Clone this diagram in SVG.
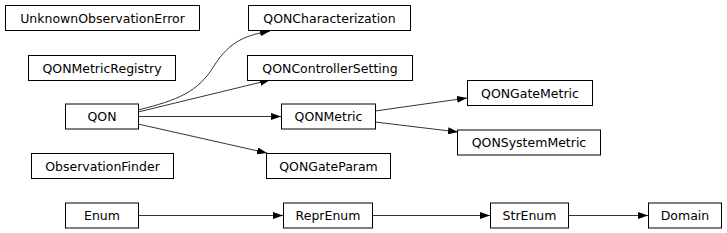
<svg xmlns="http://www.w3.org/2000/svg" width="727" height="233" viewBox="0 0 727 233">
<style>
.n rect{fill:#fff;stroke:#000;stroke-width:1}
.n text{font-family:"DejaVu Sans",sans-serif;font-size:12.5px;text-anchor:middle;fill:#000}
.e path{fill:none;stroke:#000;stroke-width:0.8}
</style>
<defs>
<marker id="a" viewBox="0 0 10 7" refX="10" refY="3.5" markerWidth="10" markerHeight="7" markerUnits="userSpaceOnUse" orient="auto">
<path d="M0,0 L10,3.5 L0,7 z" fill="#000"/>
</marker>
</defs>
<rect width="727" height="233" fill="#fff"/>
<g class="e">
<path d="M138,110 C178,100 198,92 214,66 C230,40 248,35 270,31" marker-end="url(#a)"/>
<path d="M138,112 L270,80" marker-end="url(#a)"/>
<path d="M138,116.5 L281,116.5" marker-end="url(#a)"/>
<path d="M138,124 L267,153" marker-end="url(#a)"/>
<path d="M375,111 L467,98" marker-end="url(#a)"/>
<path d="M375,122 L458,132" marker-end="url(#a)"/>
<path d="M138,215.5 L283,215.5" marker-end="url(#a)"/>
<path d="M372,215.5 L490,215.5" marker-end="url(#a)"/>
<path d="M568,215.5 L648,215.5" marker-end="url(#a)"/>
</g>
<g class="n" id="UnknownObservationError"><rect x="5.5" y="5.5" width="194" height="25"/><text x="102.5" y="22.5">UnknownObservationError</text></g>
<g class="n" id="QONMetricRegistry"><rect x="28.5" y="55.5" width="147" height="25"/><text x="102" y="72.5">QONMetricRegistry</text></g>
<g class="n" id="QON"><rect x="65.5" y="104" width="73" height="25"/><text x="102" y="121">QON</text></g>
<g class="n" id="ObservationFinder"><rect x="31.5" y="153.5" width="142" height="25"/><text x="102.5" y="170.5">ObservationFinder</text></g>
<g class="n" id="Enum"><rect x="65.5" y="203" width="73" height="25"/><text x="102" y="220">Enum</text></g>
<g class="n" id="QONCharacterization"><rect x="248.5" y="5.5" width="162" height="25"/><text x="329.5" y="22.5">QONCharacterization</text></g>
<g class="n" id="QONControllerSetting"><rect x="247.5" y="55.5" width="165" height="25"/><text x="330" y="72.5">QONControllerSetting</text></g>
<g class="n" id="QONMetric"><rect x="281.5" y="104" width="94" height="25"/><text x="328.5" y="121">QONMetric</text></g>
<g class="n" id="QONGateParam"><rect x="266.5" y="153.5" width="124" height="25"/><text x="328.5" y="170.5">QONGateParam</text></g>
<g class="n" id="ReprEnum"><rect x="283.5" y="203" width="89" height="25"/><text x="328" y="220">ReprEnum</text></g>
<g class="n" id="QONGateMetric"><rect x="467.5" y="80.5" width="125" height="25"/><text x="530" y="97.5">QONGateMetric</text></g>
<g class="n" id="QONSystemMetric"><rect x="457.5" y="130" width="143" height="25"/><text x="529" y="147">QONSystemMetric</text></g>
<g class="n" id="StrEnum"><rect x="490.5" y="203" width="78" height="25"/><text x="529.5" y="220">StrEnum</text></g>
<g class="n" id="Domain"><rect x="648.5" y="203" width="73" height="25"/><text x="685" y="220">Domain</text></g>
</svg>
